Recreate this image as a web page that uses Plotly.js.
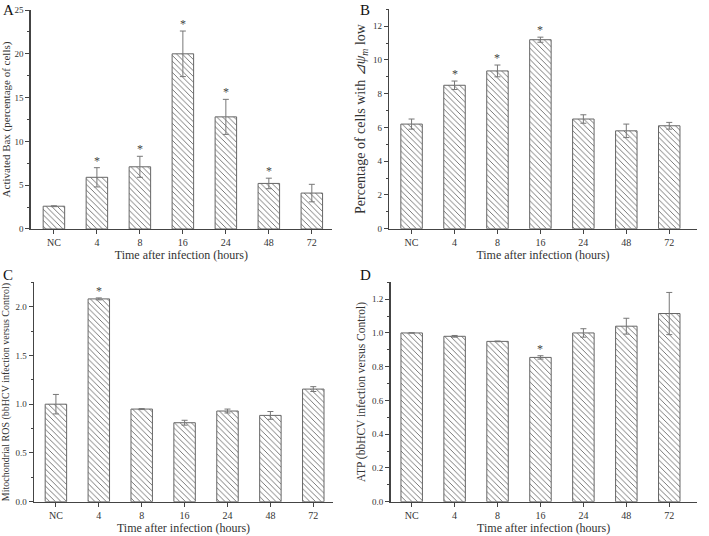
<!DOCTYPE html>
<html>
<head>
<meta charset="utf-8">
<script src="https://cdn.plot.ly/plotly-3.0.1.min.js"></script>
<style>
  html, body { margin: 0; padding: 0; background: #fff; }
  #chart { width: 709px; height: 536px; }
</style>
</head>
<body>
<div id="chart"></div>
<script>
(function() {

  var hours = ['NC', '4', '8', '16', '24', '48', '72'];

  // A: activated Bax
  var baxMean = [2.6, 5.9, 7.1, 20.0, 12.8, 5.2, 4.1];
  var baxErr  = [0.05, 1.1, 1.2, 2.6, 2.0, 0.6, 1.0];
  var baxSig  = [false, true, true, true, true, true, false];

  // B: cells with low membrane potential
  var psiMean = [6.2, 8.5, 9.35, 11.2, 6.5, 5.8, 6.1];
  var psiErr  = [0.3, 0.25, 0.35, 0.15, 0.25, 0.4, 0.2];
  var psiSig  = [false, true, true, true, false, false, false];

  // C: mitochondrial ROS
  var rosMean = [1.0, 2.08, 0.95, 0.81, 0.93, 0.885, 1.155];
  var rosErr  = [0.1, 0.01, 0.005, 0.025, 0.02, 0.04, 0.025];
  var rosSig  = [false, true, false, false, false, false, false];

  // D: ATP
  var atpMean = [1.0, 0.98, 0.95, 0.855, 1.0, 1.04, 1.115];
  var atpErr  = [0.0, 0.005, 0.002, 0.01, 0.025, 0.047, 0.125];
  var atpSig  = [false, false, false, true, false, false, false];

  var ink = '#333';
  var serif = 'Liberation Serif, Times New Roman, serif';

  function barTrace(y, err, n) {
    return {
      type: 'bar',
      x: hours,
      y: y,
      width: 0.5,
      xaxis: 'x' + (n === 1 ? '' : n),
      yaxis: 'y' + (n === 1 ? '' : n),
      marker: {
        color: 'white',
        line: {color: '#666', width: 1},
        pattern: {shape: '\\', fgcolor: '#666', bgcolor: 'white', size: 4, solidity: 0.22}
      },
      error_y: {type: 'data', array: err, visible: true, color: '#777', thickness: 1, width: 3},
      showlegend: false,
      hoverinfo: 'x+y'
    };
  }

  var data = [
    barTrace(baxMean, baxErr, 1),
    barTrace(psiMean, psiErr, 2),
    barTrace(rosMean, rosErr, 3),
    barTrace(atpMean, atpErr, 4)
  ];

  var annotations = [];
  function stars(mean, err, sig, n) {
    for (var i = 0; i < hours.length; i++) {
      if (!sig[i]) continue;
      // category axis: position by index so '4', '8'... are not read as positions
      annotations.push({
        xref: 'x' + (n === 1 ? '' : n), yref: 'y' + (n === 1 ? '' : n),
        x: i, y: mean[i] + err[i], yanchor: 'bottom', yshift: -2,
        text: '*', showarrow: false, font: {family: serif, size: 12, color: '#444'}
      });
    }
  }
  stars(baxMean, baxErr, baxSig, 1);
  stars(psiMean, psiErr, psiSig, 2);
  stars(rosMean, rosErr, rosSig, 3);
  stars(atpMean, atpErr, atpSig, 4);

  [['A', 0.002, 1.0], ['B', 0.505, 1.0], ['C', 0.002, 0.505], ['D', 0.505, 0.505]].forEach(function(p) {
    annotations.push({
      xref: 'paper', yref: 'paper', x: p[1], y: p[2], xanchor: 'left', yanchor: 'top',
      text: p[0], showarrow: false, font: {family: serif, size: 15, color: '#111'}
    });
  });

  function xaxis(domain, range, anchor) {
    return {
      domain: domain, range: range, anchor: anchor, type: 'category',
      showline: true, linecolor: '#444', linewidth: 1.5,
      ticks: 'outside', ticklen: 4, tickcolor: '#444', tickwidth: 1,
      showgrid: false, zeroline: false,
      tickfont: {family: serif, size: 10, color: ink},
      title: {text: 'Time after infection (hours)', font: {family: serif, size: 12, color: ink}, standoff: 2}
    };
  }
  function yaxis(domain, range, dtick, fmt, title, tsize, anchor) {
    return {
      domain: domain, range: range, anchor: anchor, dtick: dtick, tickformat: fmt,
      showline: true, linecolor: '#444', linewidth: 1.5,
      ticks: 'outside', ticklen: 4, tickcolor: '#444', tickwidth: 1,
      minor: {dtick: dtick / 2, ticks: 'outside', ticklen: 2, tickcolor: '#444'},
      showgrid: false, zeroline: false,
      tickfont: {family: serif, size: 9, color: ink},
      title: {text: title, font: {family: serif, size: tsize, color: ink}, standoff: 4}
    };
  }

  var layout = {
    width: 709, height: 536,
    margin: {l: 0, r: 0, t: 0, b: 0},
    paper_bgcolor: 'white', plot_bgcolor: 'white',
    bargap: 0.5,
    xaxis:  xaxis([0.0433, 0.4683], [-0.54, 6.47], 'y'),
    yaxis:  yaxis([0.5728, 0.9813], [0, 25], 5, 'd', 'Activated Bax (percentage of cells)', 11, 'x'),
    xaxis2: xaxis([0.549, 0.9827], [-0.52, 6.64], 'y2'),
    yaxis2: yaxis([0.5733, 0.9826], [0, 13], 2, 'd', 'Percentage of cells with <i>⊿ψ<sub>m</sub></i> low', 14, 'x2'),
    xaxis3: xaxis([0.048, 0.4697], [-0.51, 6.46], 'y3'),
    yaxis3: yaxis([0.064, 0.4733], [0, 2.25], 0.5, '.1f', 'Mitochondrial ROS (bbHCV infection versus Control)', 10, 'x3'),
    xaxis4: xaxis([0.551, 0.9827], [-0.49, 6.64], 'y4'),
    yaxis4: yaxis([0.064, 0.4733], [0, 1.3], 0.2, '.1f', 'ATP (bbHCV infection versus Control)', 11.5, 'x4'),
    annotations: annotations
  };

  Plotly.newPlot('chart', data, layout, {displayModeBar: false, staticPlot: true});

})();
</script>
</body>
</html>
